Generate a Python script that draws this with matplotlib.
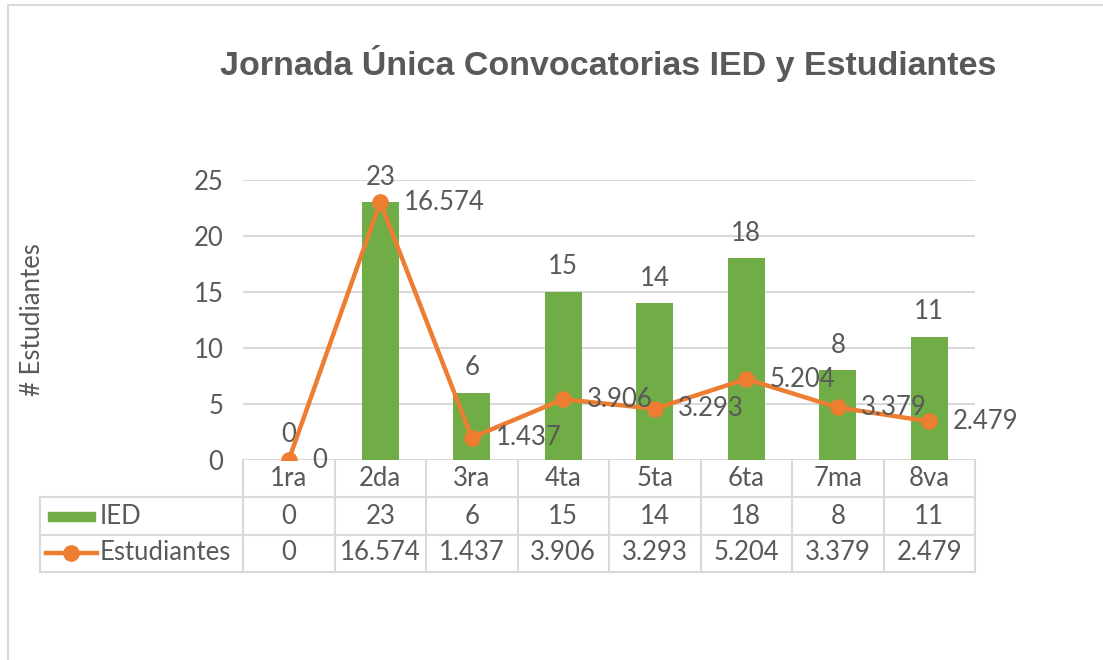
import matplotlib.pyplot as plt
import matplotlib.transforms as mtransforms
from matplotlib.lines import Line2D
from matplotlib.patches import Rectangle
import numpy as np

categorias = ['1ra', '2da', '3ra', '4ta', '5ta', '6ta', '7ma', '8va']
ied = [0, 23, 6, 15, 14, 18, 8, 11]
estudiantes = [0, 16.574, 1.437, 3.906, 3.293, 5.204, 3.379, 2.479]
estudiantes_txt = ['0', '16.574', '1.437', '3.906', '3.293', '5.204', '3.379', '2.479']

verde = '#70AD47'
naranja = '#ED7D31'
gris = '#595959'
rejilla = '#D9D9D9'
fs = 18.5

plt.rcParams['font.family'] = ['Lato', 'DejaVu Sans']

W, H = 1103, 660
fig = plt.figure(figsize=(W / 100, H / 100), dpi=100)

# chart border (only left and top visible in the reference)
fig.add_artist(Line2D([8 / W, 8 / W], [0, 1 - 5 / H], color=rejilla, lw=1.5))
fig.add_artist(Line2D([8 / W, 1], [1 - 5 / H, 1 - 5 / H], color=rejilla, lw=1.5))

x0, x1 = 243, 975
y0, y1 = 180, 460
ax = fig.add_axes([x0 / W, 1 - y1 / H, (x1 - x0) / W, (y1 - y0) / H])
x = np.arange(len(categorias))

ax.bar(x, ied, width=0.4, color=verde, zorder=2)
ax.set_xlim(-0.5, len(categorias) - 0.5)
ax.set_ylim(0, 25)
ax.set_yticks([0, 5, 10, 15, 20, 25])
ax.grid(axis='y', color=rejilla, lw=1.5, zorder=0)
ax.set_axisbelow(True)
ax.set_xticks([])
for s in ax.spines.values():
    s.set_visible(False)
ax.tick_params(axis='y', length=0, pad=14, labelsize=fs, labelcolor=gris)
ax.set_ylabel('# Estudiantes', fontsize=fs, color=gris)
ax.yaxis.set_label_coords((45 - x0) / (x1 - x0), 0.5)

for xi, v in zip(x, ied):
    ax.annotate(str(v), (xi, v), xytext=(0, 18), textcoords='offset points',
                ha='center', va='center', fontsize=fs, color=gris)

ax2 = ax.twinx()
ax2.set_ylim(0, 18)
ax2.axis('off')
ax2.plot(x, estudiantes, color=naranja, lw=3.2, marker='o', markersize=11, zorder=3)
for xi, v, t in zip(x, estudiantes, estudiantes_txt):
    ax2.annotate(t, (xi, v), xytext=(17, 0), textcoords='offset points',
                 ha='left', va='center', fontsize=fs, color=gris)

# data table below the plot area
tr = mtransforms.blended_transform_factory(ax.transData, ax.transAxes)
h = y1 - y0


def fy(py):
    return (y1 - py) / h


left = (40 - x0) / (x1 - x0)
ta = ax.transAxes
for py in [497, 535, 572]:
    ax.add_line(Line2D([left, 1], [fy(py), fy(py)], transform=ta, color=rejilla, lw=1.5, clip_on=False))
ax.add_line(Line2D([left, left], [fy(497), fy(572)], transform=ta, color=rejilla, lw=1.5, clip_on=False))
for b in np.arange(len(categorias) + 1) - 0.5:
    ax.add_line(Line2D([b, b], [fy(460), fy(572)], transform=tr, color=rejilla, lw=1.5, clip_on=False))

filas = [(fy(478), categorias), (fy(516), [str(v) for v in ied]), (fy(553), estudiantes_txt)]
for yy, textos in filas:
    for xi, t in zip(x, textos):
        ax.text(xi, yy, t, transform=tr, ha='center', va='center', fontsize=fs, color=gris)

# legend keys inside the table
px = lambda p: (p - x0) / (x1 - x0)
ax.add_patch(Rectangle((px(48), fy(521)), px(95) - px(48), fy(512) - fy(521), transform=ta,
                       color=verde, clip_on=False))
ax.text(px(100), fy(516), 'IED', transform=ta, ha='left', va='center', fontsize=fs, color=gris)
ax.add_line(Line2D([px(46), px(97)], [fy(553), fy(553)], transform=ta, color=naranja, lw=3.2,
                   clip_on=False))
ax.add_line(Line2D([px(71)], [fy(553)], transform=ta, color=naranja, marker='o', markersize=11,
                   clip_on=False))
ax.text(px(100), fy(553), 'Estudiantes', transform=ta, ha='left', va='center', fontsize=fs, color=gris)

fig.text(608 / W, 1 - 64 / H, 'Jornada Única Convocatorias IED y Estudiantes', ha='center', va='center',
         fontsize=24.5, fontweight='bold', color=gris, family=['Liberation Sans', 'DejaVu Sans'])

fig.savefig('out.png', dpi=100)
